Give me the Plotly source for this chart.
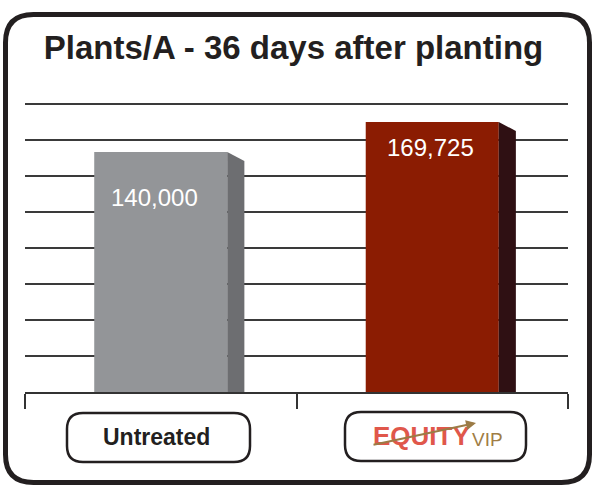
import plotly.graph_objects as go

# ---- data ----
categories = ["Untreated", "EQUITY VIP"]
plants_per_acre = [140000, 169725]
value_labels = ["140,000", "169,725"]
title_text = "Plants/A - 36 days after planting"

# ---- styles ----
front_colors = ["#939598", "#8b1c02"]
side_colors = ["#6d6e71", "#2f1013"]
INK = "#231f20"
FONT = "Liberation Sans, Arial, Helvetica, sans-serif"

W, H = 596, 488
AXIS_Y = 392          # pixel row of the category axis
PAD_TOP = 2           # extra pixels above the top gridline
ML, MR, MT, MB = 25, 28, 104 - PAD_TOP, H - AXIS_Y
PW = W - ML - MR
PH = H - MT - MB

AXIS_MIN = -97800
STEP = 35670
N_GRID = 8
VPP = STEP / 36.0     # value per pixel
AXIS_MAX = AXIS_MIN + N_GRID * STEP + PAD_TOP * VPP

BAR_W = 0.49
DEPTH = 0.063
DROP = 9 * VPP


def px(x):
    return (x - ML) / PW


def py(y):
    return (H - MB - y) / PH


def rrect(x0, y0, x1, y1, r):
    X, Y = px, py
    return (
        f"M {X(x0 + r)},{Y(y0)} L {X(x1 - r)},{Y(y0)} Q {X(x1)},{Y(y0)} {X(x1)},{Y(y0 + r)} "
        f"L {X(x1)},{Y(y1 - r)} Q {X(x1)},{Y(y1)} {X(x1 - r)},{Y(y1)} L {X(x0 + r)},{Y(y1)} "
        f"Q {X(x0)},{Y(y1)} {X(x0)},{Y(y1 - r)} L {X(x0)},{Y(y0 + r)} Q {X(x0)},{Y(y0)} {X(x0 + r)},{Y(y0)} Z"
    )


fig = go.Figure()
xs = list(range(len(categories)))
fig.add_trace(go.Bar(
    x=xs, y=[v - AXIS_MIN for v in plants_per_acre], base=AXIS_MIN, width=BAR_W,
    marker=dict(color=front_colors, line=dict(width=0)), hoverinfo="skip", showlegend=False,
))
for i, v in enumerate(plants_per_acre):
    xr = i + BAR_W / 2
    fig.add_trace(go.Scatter(
        x=[xr, xr + DEPTH, xr + DEPTH, xr, xr],
        y=[v, v - DROP, AXIS_MIN, AXIS_MIN, v],
        fill="toself", fillcolor=side_colors[i], line=dict(width=0, color=side_colors[i]),
        mode="lines", hoverinfo="skip", showlegend=False,
    ))

annotations = []
label_shift = [(-6, -45), (-2, -25)]
for i, (v, t) in enumerate(zip(plants_per_acre, value_labels)):
    annotations.append(dict(
        x=i, y=v, xref="x", yref="y", text=t, showarrow=False,
        xshift=label_shift[i][0], yshift=label_shift[i][1], xanchor="center",
        font=dict(family=FONT, size=24, color="white"), yanchor="middle",
    ))

# category labels
annotations.append(dict(
    x=px(156), y=py(437), xref="paper", yref="paper", text="<b>" + categories[0] + "</b>",
    showarrow=False, font=dict(family=FONT, size=23, color=INK), xanchor="center", yanchor="middle",
))
annotations.append(dict(
    x=px(421), y=py(436), xref="paper", yref="paper", text="<b>EQUITY</b>",
    showarrow=False, font=dict(family=FONT, size=26, color="#e0574b"),
    xanchor="center", yanchor="middle",
))
annotations.append(dict(
    x=px(487), y=py(440), xref="paper", yref="paper", text="VIP",
    showarrow=False, font=dict(family=FONT, size=19, color="#a07d45"),
    xanchor="center", yanchor="middle",
))
annotations.append(dict(
    x=px(476), y=py(423), xref="paper", yref="paper", text="", showarrow=True,
    ax=-104, ay=22, arrowhead=2, arrowsize=1, arrowwidth=2, arrowcolor="#9b7b45",
))

shapes = [
    dict(type="path", xref="paper", yref="paper", path=rrect(5.5, 14.5, 589.5, 482.5, 28),
         line=dict(color=INK, width=5), layer="above"),
    dict(type="path", xref="paper", yref="paper", path=rrect(67, 413, 250, 462, 16),
         line=dict(color=INK, width=2.5), layer="above"),
    dict(type="path", xref="paper", yref="paper", path=rrect(345, 412, 526, 461, 16),
         line=dict(color=INK, width=2.5), layer="above"),
]

fig.update_layout(
    width=W, height=H, margin=dict(l=ML, r=MR, t=MT, b=MB),
    paper_bgcolor="white", plot_bgcolor="white",
    title=dict(text="<b>" + title_text + "</b>", x=293.5 / W, xref="container", xanchor="center",
               y=1 - 47 / H, yref="container", yanchor="middle",
               font=dict(family=FONT, size=33, color=INK)),
    xaxis=dict(range=[-0.5, 1.5], tickvals=[-0.5, 0.5, 1.5], showticklabels=False,
               ticks="outside", ticklen=15, tickwidth=2, tickcolor="#333333",
               showline=True, linewidth=2, linecolor="#333333", showgrid=False, zeroline=False,
               fixedrange=True),
    yaxis=dict(range=[AXIS_MIN, AXIS_MAX], tick0=AXIS_MIN, dtick=STEP, showticklabels=False,
               showgrid=True, gridcolor="#3a3a3a", gridwidth=1.5, zeroline=False, ticks="",
               fixedrange=True),
    annotations=annotations, shapes=shapes, showlegend=False,
)

fig.write_html("out.html", config={"displayModeBar": False},
               post_script="document.body.style.margin='0';")
